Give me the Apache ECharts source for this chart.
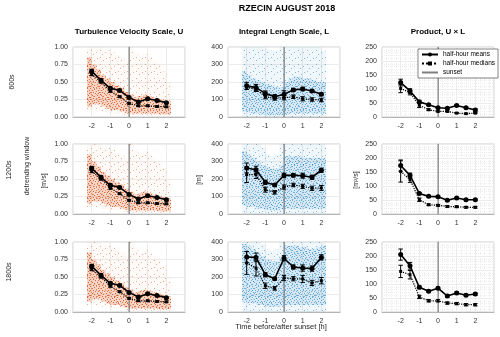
<!DOCTYPE html>
<html>
<head>
<meta charset="utf-8">
<script src="https://cdn.jsdelivr.net/npm/echarts@6/dist/echarts.min.js"></script>
<style>
html,body{margin:0;padding:0;background:#fff;}
#main{width:500px;height:337px;}
</style>
</head>
<body>
<div id="main"></div>
<script>
// half-hour bins (hours before/after sunset)
var hours = [-2, -1.5, -1, -0.5, 0, 0.5, 1, 1.5, 2];

// U [m/s] (same in every row)
var uMean = [0.655, 0.525, 0.41, 0.38, 0.28, 0.215, 0.26, 0.235, 0.205];
var uMeanErr = [0.025, 0.02, 0.02, 0.015, 0.015, 0.012, 0.012, 0.012, 0.012];
var uMed = [0.61, 0.5, 0.37, 0.29, 0.195, 0.16, 0.16, 0.15, 0.145];
var uMedErr = [0.02, 0.015, 0.015, 0.01, 0.01, 0.01, 0.01, 0.01, 0.01];

// L [m]
var l600Mean = [178, 168, 135, 116, 130, 155, 160, 149, 130];
var l600MeanErr = [20, 18, 14, 12, 20, 8, 10, 8, 8];
var l600Med = [170, 158, 116, 106, 110, 116, 104, 100, 97];
var l600MedErr = [12, 12, 12, 10, 12, 10, 12, 10, 10];
var l1200Mean = [263, 253, 181, 166, 221, 221, 219, 210, 250];
var l1200MeanErr = [28, 20, 12, 8, 12, 10, 14, 12, 12];
var l1200Med = [225, 225, 139, 124, 154, 166, 158, 147, 149];
var l1200MedErr = [45, 22, 14, 10, 12, 10, 12, 12, 14];
var l1800Mean = [314, 312, 213, 190, 307, 257, 251, 248, 312];
var l1800MeanErr = [32, 25, 12, 8, 15, 12, 18, 15, 15];
var l1800Med = [280, 251, 150, 135, 194, 190, 189, 166, 179];
var l1800MedErr = [65, 45, 15, 10, 15, 12, 20, 15, 18];

// U x L [m2/s]
var ul600Mean = [123, 93, 54, 44, 33, 31, 41, 33, 25];
var ul600MeanErr = [12, 8, 6, 3, 3, 3, 3, 3, 4];
var ul600Med = [102, 87, 42, 26, 20, 20, 14, 12, 14];
var ul600MedErr = [15, 8, 8, 3, 2, 2, 2, 2, 2];
var ul1200Mean = [173, 138, 73, 63, 62, 49, 57, 51, 51];
var ul1200MeanErr = [20, 8, 4, 3, 3, 3, 3, 3, 3];
var ul1200Med = [152, 123, 51, 33, 31, 27, 26, 24, 24];
var ul1200MedErr = [38, 10, 6, 3, 3, 3, 3, 3, 3];
var ul1800Mean = [205, 165, 88, 74, 85, 57, 68, 60, 64];
var ul1800MeanErr = [20, 12, 5, 4, 4, 4, 4, 4, 4];
var ul1800Med = [145, 133, 54, 40, 40, 32, 30, 26, 26];
var ul1800MedErr = [22, 15, 6, 4, 4, 4, 4, 4, 4];

// raw sample cloud, read per quarter hour: sparse bottom, dense low, dense high, sparse top
var cloudBins = [-2.25, -2, -1.75, -1.5, -1.25, -1, -0.75, -0.5, -0.25, 0, 0.25, 0.5, 0.75, 1, 1.25, 1.5, 1.75, 2];
var uCloudBot = [0.1, 0.1, 0.1, 0.08, 0.06, 0.05, 0.05, 0.04, 0.03, 0.02, 0.02, 0.02, 0.02, 0.02, 0.02, 0.02, 0.02, 0.02];
var uCloudLo = [0.15, 0.18, 0.18, 0.15, 0.12, 0.1, 0.1, 0.08, 0.06, 0.05, 0.05, 0.05, 0.05, 0.05, 0.05, 0.04, 0.04, 0.04];
var uCloudHi = [0.85, 0.75, 0.68, 0.6, 0.55, 0.5, 0.45, 0.42, 0.36, 0.32, 0.28, 0.3, 0.32, 0.3, 0.28, 0.26, 0.24, 0.22];
var uCloudTop = [1, 1, 1, 0.97, 0.95, 0.92, 0.88, 0.85, 0.8, 1, 0.92, 0.85, 0.9, 0.85, 0.8, 0.75, 0.65, 0.5];
var l600CloudLo = [30, 25, 20, 20, 15, 10, 10, 10, 10, 15, 20, 20, 20, 20, 20, 20, 20, 20];
var l600CloudHi = [260, 240, 220, 210, 200, 190, 180, 170, 170, 200, 220, 230, 230, 220, 220, 210, 200, 200];
var l600CloudTop = [400, 400, 400, 400, 400, 390, 380, 380, 400, 400, 400, 400, 400, 400, 400, 400, 400, 380];
var l1200CloudLo = [50, 40, 40, 30, 30, 25, 20, 20, 25, 30, 30, 30, 30, 30, 30, 30, 30, 30];
var l1200CloudHi = [360, 340, 320, 300, 280, 270, 260, 260, 280, 330, 330, 330, 330, 320, 320, 320, 320, 320];
var l1200CloudTop = [400, 400, 400, 400, 380, 340, 330, 340, 400, 400, 400, 400, 400, 400, 400, 400, 400, 400];
var l1800CloudLo = [60, 50, 50, 40, 40, 30, 30, 30, 35, 40, 40, 40, 40, 40, 40, 40, 40, 40];
var l1800CloudHi = [390, 380, 360, 340, 320, 300, 290, 290, 320, 380, 380, 380, 370, 370, 360, 360, 370, 380];
var l1800CloudTop = [400, 400, 400, 400, 390, 360, 350, 360, 400, 400, 400, 400, 400, 400, 400, 400, 400, 400];

var FONT = 'Liberation Sans';
var colLeft = [73, 228, 382];
var rowTop = [47, 144, 242];
var yMax = [1, 400, 250];
var yStep = [0.25, 100, 50];

var panels = [
	[[uMean, uMeanErr, uMed, uMedErr], [l600Mean, l600MeanErr, l600Med, l600MedErr], [ul600Mean, ul600MeanErr, ul600Med, ul600MedErr]],
	[[uMean, uMeanErr, uMed, uMedErr], [l1200Mean, l1200MeanErr, l1200Med, l1200MedErr], [ul1200Mean, ul1200MeanErr, ul1200Med, ul1200MedErr]],
	[[uMean, uMeanErr, uMed, uMedErr], [l1800Mean, l1800MeanErr, l1800Med, l1800MedErr], [ul1800Mean, ul1800MeanErr, ul1800Med, ul1800MedErr]]
];
var clouds = [
	[[uCloudBot, uCloudLo, uCloudHi, uCloudTop], [null, l600CloudLo, l600CloudHi, l600CloudTop]],
	[[uCloudBot, uCloudLo, uCloudHi, uCloudTop], [null, l1200CloudLo, l1200CloudHi, l1200CloudTop]],
	[[uCloudBot, uCloudLo, uCloudHi, uCloudTop], [null, l1800CloudLo, l1800CloudHi, l1800CloudTop]]
];

// dotted textures for the clouds (fixed hand-placed tiles)
function makeTile(w, h, dots, dotColor, bg) {
	var cv = document.createElement('canvas');
	cv.width = w; cv.height = h;
	var ctx = cv.getContext('2d');
	ctx.fillStyle = bg;
	ctx.fillRect(0, 0, w, h);
	ctx.fillStyle = dotColor;
	dots.forEach(function (d) { ctx.fillRect(d[0], d[1], 1, 1); });
	return { image: cv, repeat: 'repeat' };
}
var sparseDots = [[1, 1], [1, 8], [4, 4], [6, 10], [7, 2], [3, 12]];
var denseDots = [[0, 0], [0, 4], [0, 9], [1, 6], [2, 2], [2, 7], [3, 10], [3, 4], [4, 1], [4, 8], [5, 5], [6, 0], [6, 3], [6, 10], [7, 7], [8, 2], [8, 5], [8, 9]];
var tiles = [
	{ sparse: makeTile(9, 14, sparseDots, 'rgba(217,83,25,0.45)', 'rgba(217,83,25,0.03)'),
	  dense: makeTile(9, 11, denseDots, 'rgba(217,83,25,0.8)', 'rgba(217,83,25,0.22)') },
	{ sparse: makeTile(9, 14, sparseDots, 'rgba(0,114,189,0.45)', 'rgba(0,114,189,0.06)'),
	  dense: makeTile(9, 11, denseDots, 'rgba(0,114,189,0.5)', 'rgba(0,114,189,0.11)') }
];

function pts(ys) {
	return hours.map(function (h, i) { return [h, ys[i]]; });
}
function errPts(ys, es) {
	return hours.map(function (h, i) { return [h, ys[i], es[i]]; });
}

// error bars with caps
function renderErr(params, api) {
	var x = api.value(0), v = api.value(1), e = api.value(2);
	var top = api.coord([x, v + e]);
	var bot = api.coord([x, v - e]);
	var st = { stroke: '#000', lineWidth: 1 };
	return {
		type: 'group',
		children: [
			{ type: 'line', shape: { x1: top[0], y1: top[1], x2: bot[0], y2: bot[1] }, style: st },
			{ type: 'line', shape: { x1: top[0] - 2.2, y1: top[1], x2: top[0] + 2.2, y2: top[1] }, style: st },
			{ type: 'line', shape: { x1: bot[0] - 2.2, y1: bot[1], x2: bot[0] + 2.2, y2: bot[1] }, style: st }
		]
	};
}

// sample cloud: sparse band + denser core
// data row: [binStart, denseLo, denseHi, sparseTop, sparseBottom]
function makeCloudRender(tile) {
	return function (params, api) {
		var x0 = api.value(0), x1 = x0 + 0.25;
		var sTop = api.coord([x0, api.value(3)]);
		var sBot = api.coord([x1, api.value(4)]);
		var dTop = api.coord([x0, api.value(2)]);
		var dBot = api.coord([x1, api.value(1)]);
		return {
			type: 'group',
			children: [
				{ type: 'rect', shape: { x: sTop[0], y: sTop[1], width: sBot[0] - sTop[0], height: sBot[1] - sTop[1] }, style: { fill: tile.sparse } },
				{ type: 'rect', shape: { x: dTop[0], y: dTop[1], width: dBot[0] - dTop[0], height: dBot[1] - dTop[1] }, style: { fill: tile.dense } }
			]
		};
	};
}

var grids = [], xAxes = [], yAxes = [], series = [];
for (var r = 0; r < 3; r++) {
	for (var c = 0; c < 3; c++) {
		var idx = r * 3 + c;
		grids.push({ left: colLeft[c], top: rowTop[r], width: 112, height: 70, show: true, borderColor: '#cfcfcf', borderWidth: 1, backgroundColor: '#fff' });
		xAxes.push({
			type: 'value', gridIndex: idx, min: -3, max: 3, interval: 1,
			axisLine: { show: true, onZero: false, lineStyle: { color: '#b5b5b5' } },
			axisTick: { show: false },
			axisLabel: { fontSize: 7, color: '#333', fontFamily: FONT, margin: 6,
				formatter: function (v) { return (v === -3 || v === 3) ? '' : String(v); } },
			splitLine: { show: true, lineStyle: { color: '#ececec' } },
			minorTick: { show: c === 2, splitNumber: 4, length: 0 },
			minorSplitLine: { show: c === 2, lineStyle: { color: '#ededed', type: 'dotted' } }
		});
		yAxes.push({
			type: 'value', gridIndex: idx, min: 0, max: yMax[c], interval: yStep[c],
			axisLine: { show: true, lineStyle: { color: '#b5b5b5' } },
			axisTick: { show: false },
			axisLabel: { fontSize: 7, color: '#333', fontFamily: FONT, margin: 5,
				formatter: c === 0 ? function (v) { return v.toFixed(2); } : null },
			splitLine: { show: true, lineStyle: { color: '#ececec' } },
			minorTick: { show: c === 2, splitNumber: 5, length: 0 },
			minorSplitLine: { show: c === 2, lineStyle: { color: '#ededed', type: 'dotted' } }
		});

		if (c < 2) {
			var cl = clouds[r][c];
			series.push({
				type: 'custom', xAxisIndex: idx, yAxisIndex: idx, z: 1, silent: true,
				renderItem: makeCloudRender(tiles[c]),
				data: cloudBins.map(function (b, i) { return [b, cl[1][i], cl[2][i], cl[3][i], cl[0] ? cl[0][i] : 0]; })
			});
		}

		series.push({
			name: 'sunset', type: 'line', xAxisIndex: idx, yAxisIndex: idx, z: 2,
			data: [[0, 0], [0, yMax[c]]], symbol: 'none', silent: true,
			lineStyle: { color: '#7f7f7f', width: 1 }, itemStyle: { color: '#7f7f7f' }
		});

		var p = panels[r][c];
		series.push({
			name: 'half-hour medians', type: 'line', xAxisIndex: idx, yAxisIndex: idx, z: 3,
			data: pts(p[2]), symbol: 'rect', symbolSize: 3,
			lineStyle: { color: '#000', width: 1.2, type: 'dotted' }, itemStyle: { color: '#000' }
		});
		series.push({
			type: 'custom', xAxisIndex: idx, yAxisIndex: idx, z: 4, silent: true,
			renderItem: renderErr, data: errPts(p[2], p[3])
		});
		series.push({
			name: 'half-hour means', type: 'line', xAxisIndex: idx, yAxisIndex: idx, z: 5,
			data: pts(p[0]), symbol: 'circle', symbolSize: 5,
			lineStyle: { color: '#000', width: 1.6 }, itemStyle: { color: '#000' }
		});
		series.push({
			type: 'custom', xAxisIndex: idx, yAxisIndex: idx, z: 6, silent: true,
			renderItem: renderErr, data: errPts(p[0], p[1])
		});
	}
}

function txt(x, y, s, size, bold, rot) {
	return {
		type: 'text', x: x, y: y, rotation: rot || 0, z: 10,
		style: { text: s, fontSize: size, fontWeight: bold ? 'bold' : 'normal', fontFamily: FONT,
			fill: bold ? '#000' : '#262626', align: 'center', verticalAlign: 'middle' }
	};
}
var R = Math.PI / 2;

var myChart = echarts.init(document.getElementById('main'), null, { renderer: 'canvas' });
myChart.setOption({
	animation: false,
	backgroundColor: '#fff',
	grid: grids,
	xAxis: xAxes,
	yAxis: yAxes,
	legend: {
		data: ['half-hour means', 'half-hour medians', { name: 'sunset', itemStyle: { opacity: 0 } }],
		orient: 'vertical', left: 418, top: 49,
		itemWidth: 16, itemHeight: 5, itemGap: 2, padding: [2, 3, 2, 3],
		backgroundColor: '#fff', borderColor: '#333', borderWidth: 0.6,
		textStyle: { fontSize: 6.5, fontFamily: FONT, color: '#000' },
		selectedMode: false
	},
	graphic: [
		txt(287, 9, 'RZECIN AUGUST 2018', 9, true),
		txt(129, 32, 'Turbulence Velocity Scale, U', 8, true),
		txt(284, 32, 'Integral Length Scale, L', 8, true),
		txt(438, 32, 'Product, U \u00d7 L', 8, true),
		txt(12, 82, '600s', 7, false, R),
		txt(9, 170, '1200s', 7, false, R),
		txt(27, 166, 'detrending window', 7, false, R),
		txt(44, 181, '[m/s]', 7, false, R),
		txt(9, 272, '1800s', 7, false, R),
		txt(199, 180, '[m]', 7, false, R),
		txt(356, 180, '[m\u00b2/s]', 7, false, R),
		txt(281, 327, 'Time before/after sunset [h]', 7.5, false)
	],
	series: series
});
</script>
</body>
</html>
